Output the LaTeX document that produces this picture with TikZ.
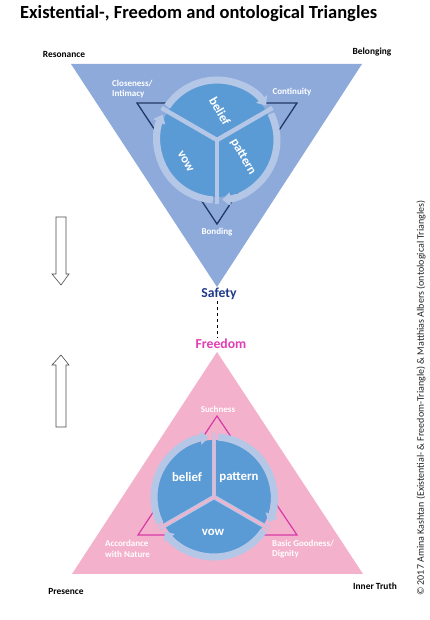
\documentclass[tikz,border=0pt]{standalone}
\usepackage{fontspec}
\setmainfont{Carlito}
\usetikzlibrary{arrows.meta}
\definecolor{topblue}{HTML}{8EAADB}
\definecolor{circblue}{HTML}{5B9BD5}
\definecolor{ringblue}{HTML}{B4C7E7}
\definecolor{navyline}{HTML}{203864}
\definecolor{pinkfill}{HTML}{F4B1CB}
\definecolor{magline}{HTML}{D63AA8}
\definecolor{safetyblue}{HTML}{1F3A8A}
\definecolor{freedompink}{HTML}{E23DB4}
\tikzset{
  corner/.style={font=\bfseries\fontsize{9.4}{11}\selectfont, text=black, inner sep=0pt},
  inlabel/.style={font=\bfseries\fontsize{9}{10.5}\selectfont, text=white, inner sep=0pt, align=left},
  seglabel/.style={font=\bfseries\fontsize{12.8}{14}\selectfont, text=white, inner sep=0pt},
  ringarc/.style={ringblue, line width=7pt, -{Triangle[width=13pt,length=8pt]}},
  hollow/.style={draw=black!70, fill=white, line width=0.6pt},
}
% #1 x, #2 y, #3 rotation, #4 divider colour, #5 name prefix, #6 #7 #8 label positions
\newcommand\cyclegroup[8]{%
\begin{scope}[shift={(#1,#2)}, rotate=#3]
  \fill[circblue] (0,0) circle[radius=57];
  \foreach \d in {90,-30,-150} {
    \draw[ringarc] (\d-4:60) arc[start angle=\d-4, end angle=\d-115, radius=60];
    \draw[ringblue, line width=4.5pt] (0,0) -- (\d:64);
    \draw[#4, line width=2.2pt] (0,0) -- (\d:64);
  }
  \node[seglabel, rotate=#3] (#5belief) at (#6) {belief};
  \node[seglabel, rotate=#3] (#5pattern) at (#7) {pattern};
  \node[seglabel, rotate=#3] (#5vow) at (#8) {vow};
\end{scope}}
\begin{document}
\begin{tikzpicture}[x=1pt,y=1pt]
  \useasboundingbox (0,0) rectangle (430,620);
  \fill[white] (0,0) rectangle (430,620);

  % title
  \node[anchor=west, inner sep=0pt, font=\bfseries\fontsize{18.5}{21}\selectfont] (title) at (20,606)
    {Existential-, Freedom and ontological Triangles};

  % ---------- top triangle ----------
  \fill[topblue] (71,556) -- (362,556) -- (217,333) -- cycle;
  \draw[navyline, line width=1.3pt] (137,517) -- (297,517) -- (217,396) -- cycle;
  \cyclegroup{217}{480}{-60}{ringblue}{t}{-23.6,17.1}{27.7,14}{3,-38}

  \node[corner] (resonance) at (64,566) {Resonance};
  \node[corner] (belonging) at (372,568) {Belonging};
  \node[inlabel, anchor=west] (closeness) at (112,531) {Closeness/\\Intimacy};
  \node[inlabel] (continuity) at (292,528) {Continuity};
  \node[inlabel] (bonding) at (217,388) {Bonding};

  \node[font=\bfseries\fontsize{13.7}{15}\selectfont, text=safetyblue, inner sep=1pt] (safety) at (219,326) {Safety};
  \node[font=\bfseries\fontsize{13.7}{15}\selectfont, text=freedompink, inner sep=1pt] (freedom) at (221,276) {Freedom};
  \draw[black, dashed, line width=0.7pt] (safety.south -| 217,0) -- (freedom.north -| 217,0);

  % ---------- bottom triangle ----------
  \fill[pinkfill] (217,268) -- (72,46) -- (363,46) -- cycle;
  \draw[magline, line width=1.2pt] (217,204) -- (138,85) -- (297,85) -- cycle;
  \cyclegroup{214}{123}{0}{pinkfill}{b}{-27,20}{25,20}{-1,-35}

  \node[inlabel] (suchness) at (218,211) {Suchness};
  \node[inlabel, anchor=west] (accordance) at (105,71) {Accordance\\with Nature};
  \node[inlabel, anchor=west] (goodness) at (272,71) {Basic Goodness/\\Dignity};
  \node[corner] (presence) at (66,29) {Presence};
  \node[corner] (innertruth) at (375,34) {Inner Truth};

  % hollow arrows
  \draw[hollow] (56,403) -- (66,403) -- (66,346) -- (69,346) -- (61,335) -- (52,346) -- (56,346) -- cycle;
  \draw[hollow] (56,193) -- (66,193) -- (66,255) -- (69,255) -- (61,265) -- (52,255) -- (56,255) -- cycle;

  % copyright
  \node[rotate=90, inner sep=0pt, font=\fontsize{10}{11}\selectfont, text=black!85] (copyright) at (421,222)
    {© 2017 Amina Kashtan (Existential- \& Freedom-Triangle) \& Matthias Albers (ontological Triangles)};
\end{tikzpicture}
\end{document}
